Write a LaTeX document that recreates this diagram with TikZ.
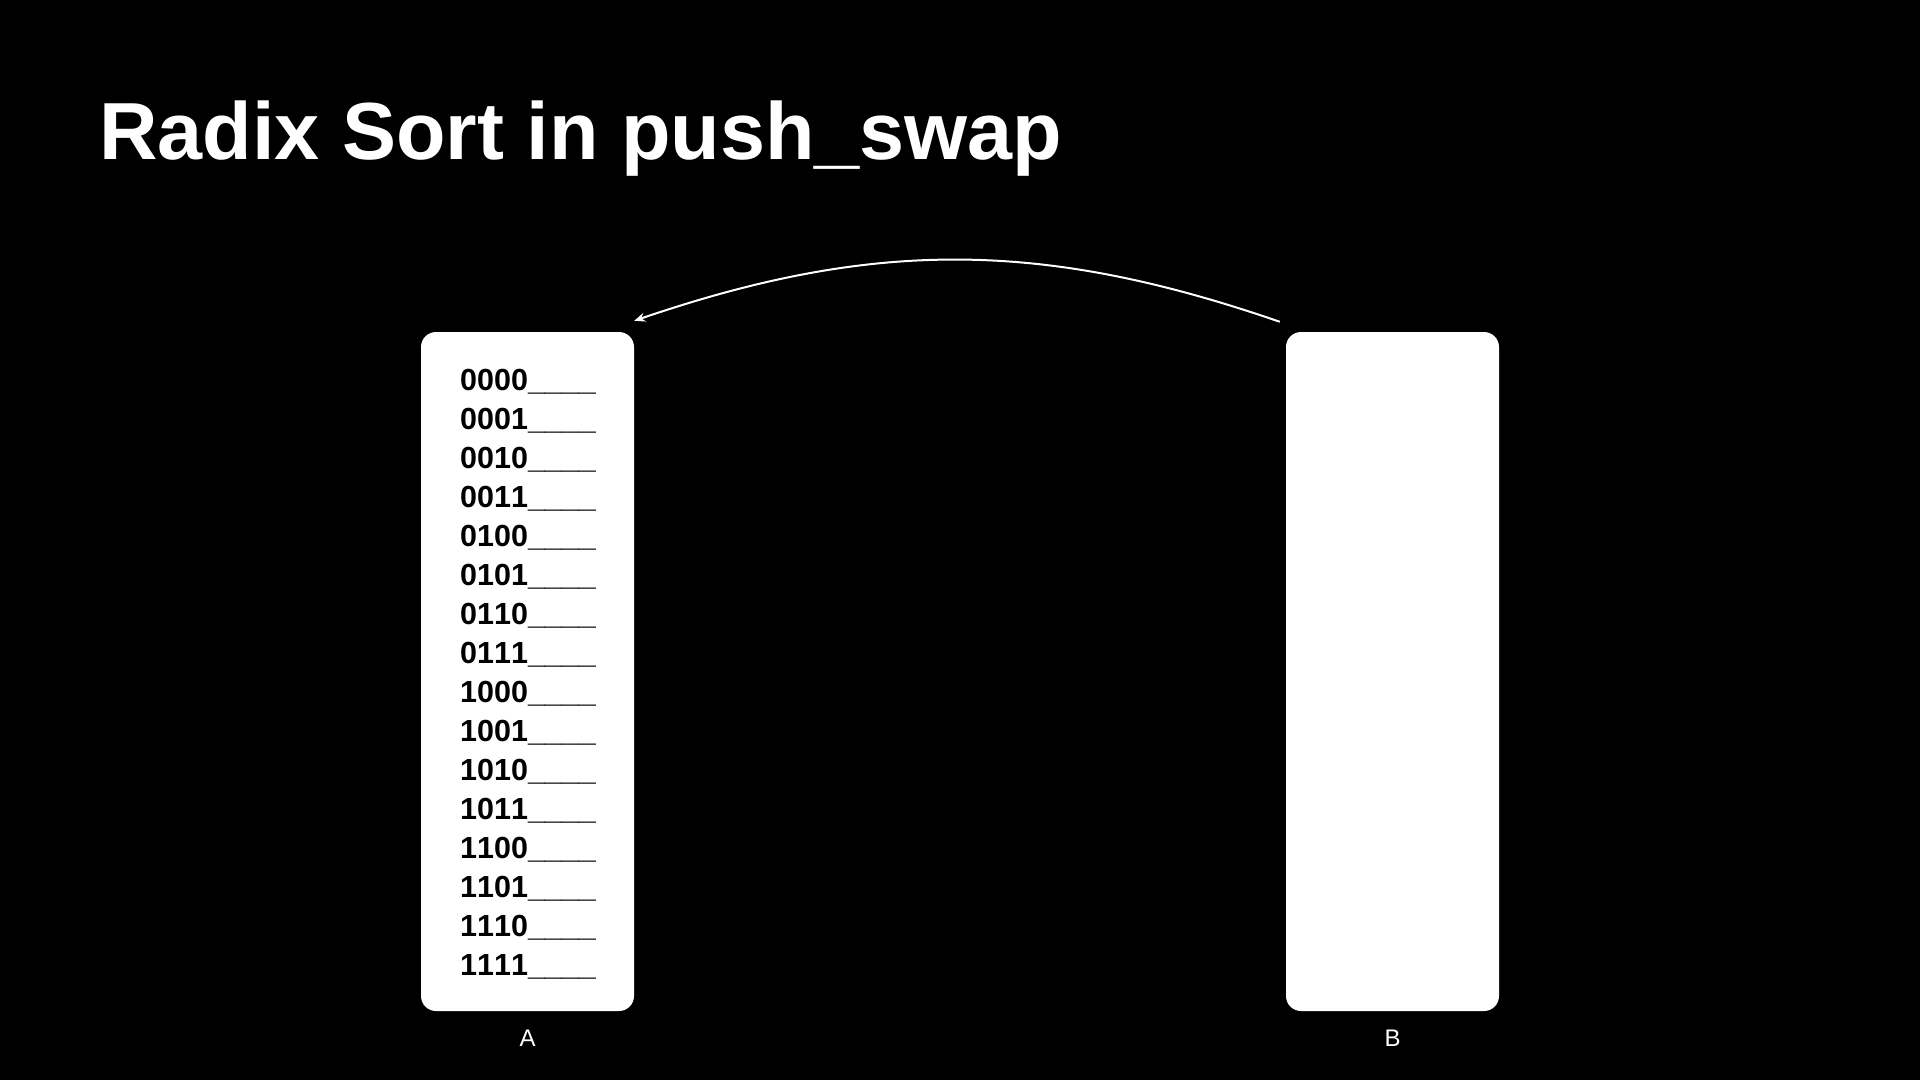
\documentclass[tikz,border=0pt]{standalone}
\usepackage{fontspec}
\setmainfont{Liberation Sans}
\newfontfamily\bitsfont[Kerning=Off]{Liberation Sans}
\usetikzlibrary{arrows.meta,positioning}

\begin{document}
\begin{tikzpicture}[x=1pt,y=-1pt,
  stack/.style={fill=white,rounded corners=15pt,minimum width=213pt,
                minimum height=679pt,inner sep=0pt},
  entry/.style={anchor=base west,inner sep=0pt,
                font=\bitsfont\fontsize{30.5}{30.5}\selectfont\bfseries},
  tag/.style={text=white,inner sep=0pt,font=\fontsize{24}{24}\selectfont},
  arr/.style={draw=white,line width=2pt,-{Stealth[length=11pt,width=9pt]}},
  node distance=19pt]
\fill[black] (0,0) rectangle (1920,1080);
\useasboundingbox (0,0) rectangle (1920,1080);
\node[anchor=base west,text=white,inner sep=0pt,
      font=\fontsize{81}{81}\selectfont\bfseries] (title) at (99,159) {Radix Sort in push\_swap};
\node[stack] (boxA) at (527.5,671.5) {};
\node[stack] (boxB) at (1392.5,671.5) {};
\node[tag,below=of boxA] (labA) {A};
\node[tag,below=of boxB] (labB) {B};
\foreach \bits [count=\i from 0] in {0000,0001,0010,0011,0100,0101,0110,0111,
                                     1000,1001,1010,1011,1100,1101,1110,1111}
  \node[entry] (row\i) at (460,390+39*\i) {\bits\_\_\_\_};
\coordinate (src) at ([shift={(-6,-10)}]boxB.north west);
\coordinate (dst) at ([shift={(0,-11)}]boxA.north east);
\draw[arr] (src) to[bend right=19] (dst);
\end{tikzpicture}
\end{document}
